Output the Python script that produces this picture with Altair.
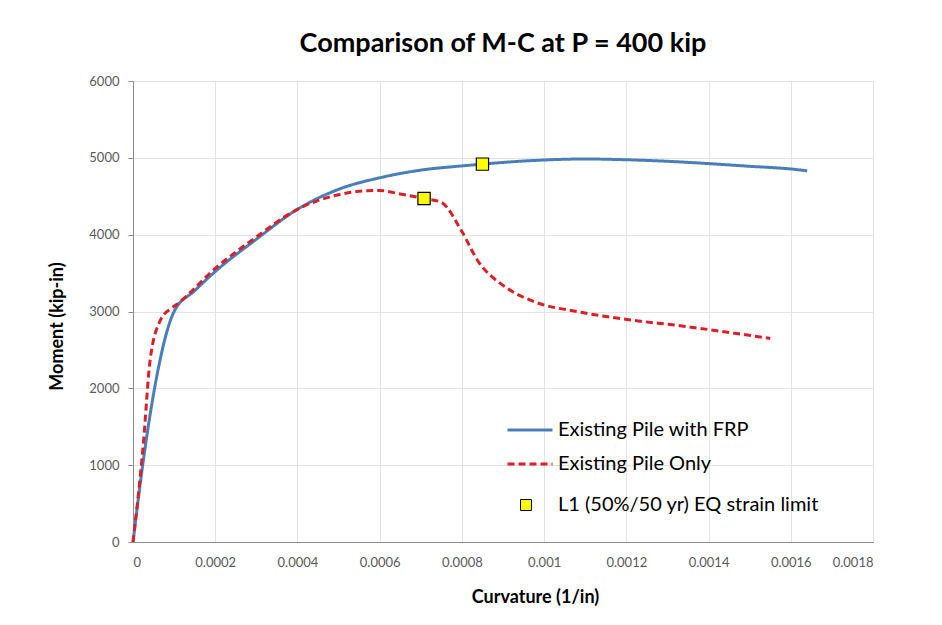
import altair as alt
import pandas as pd

frp_x = [0, 0.000025, 0.00005, 0.0001, 0.00015, 0.0002, 0.0003, 0.0004, 0.0005, 0.0006, 0.0007,
         0.0008, 0.00085, 0.0009, 0.001, 0.0011, 0.0012, 0.0013, 0.0014, 0.0015, 0.0016, 0.00164]
frp_y = [0, 1055, 1927, 3000, 3270, 3520, 3940, 4330, 4590, 4740, 4840,
         4895, 4918, 4940, 4972, 4985, 4975, 4955, 4925, 4890, 4855, 4831]

only_x = [0, 0.000025, 0.0000415, 0.000066, 0.00009, 0.000107, 0.0002, 0.0003, 0.0004, 0.0005,
          0.00055, 0.0006, 0.00065, 0.000708, 0.00075, 0.0008, 0.00084, 0.0009, 0.00097,
          0.00109, 0.00121, 0.00133, 0.00146, 0.00155]
only_y = [0, 1270, 2360, 2880, 3030, 3095, 3560, 3970, 4330, 4520,
          4565, 4575, 4530, 4471, 4420, 4040, 3650, 3340, 3140,
          2990, 2890, 2815, 2720, 2650]

limit_x = [0.000708, 0.00085]
limit_y = [4471, 4918]

x_ticks = [0, 0.0002, 0.0004, 0.0006, 0.0008, 0.001, 0.0012, 0.0014, 0.0016, 0.0018]
y_ticks = [0, 1000, 2000, 3000, 4000, 5000, 6000]

series_names = ["Existing Pile with FRP", "Existing Pile Only"]
limit_name = "L1 (50%/50 yr) EQ strain limit"

lines = pd.DataFrame(
    [{"c": x, "m": y, "series": series_names[0], "o": i} for i, (x, y) in enumerate(zip(frp_x, frp_y))]
    + [{"c": x, "m": y, "series": series_names[1], "o": i} for i, (x, y) in enumerate(zip(only_x, only_y))]
)
pts = pd.DataFrame({"c": limit_x, "m": limit_y, "kind": [limit_name] * len(limit_x)})

FONT = "Lato"

xscale = alt.Scale(domain=[0, 0.0018], nice=False, zero=True)
yscale = alt.Scale(domain=[0, 6000], nice=False)

xaxis = alt.Axis(title="Curvature (1/in)", values=x_ticks,
                 labelExpr="datum.value == 0 ? '0' : format(datum.value, '.4~f')",
                 titleFontSize=18, titleFont=FONT, titleFontWeight="bold", titleColor="#000",
                 titleX=402, titleAlign="center",
                 labelFont=FONT, labelFontSize=13, labelColor="#595959", labelPadding=14,
                 titlePadding=19, grid=True, gridColor="#e3e3e3", domainColor="#8c8c8c",
                 ticks=False)
yaxis = alt.Axis(title="Moment (kip-in)", values=y_ticks,
                 format="d", titleFontSize=18, titleFont=FONT, titleFontWeight="bold",
                 titleColor="#000", titleY=245, titleAlign="center",
                 labelFont=FONT, labelFontSize=13, labelColor="#595959",
                 labelPadding=9, titlePadding=22, grid=True, gridColor="#e3e3e3",
                 domainColor="#8c8c8c", tickColor="#8c8c8c", tickSize=5)

line_legend = alt.Legend(title=None, orient="none", legendX=373, legendY=325,
                         symbolType="stroke", symbolSize=2025, symbolStrokeWidth=3,
                         labelFont=FONT, labelFontSize=20, labelColor="#000",
                         rowPadding=-7, labelOffset=4, labelLimit=400)

line_chart = alt.Chart(lines).mark_line(strokeWidth=3, interpolate="monotone").encode(
    x=alt.X("c:Q", scale=xscale, axis=xaxis),
    y=alt.Y("m:Q", scale=yscale, axis=yaxis),
    order="o:Q",
    color=alt.Color("series:N", scale=alt.Scale(domain=series_names, range=["#4a7ebb", "#dc1f26"]),
                    legend=line_legend),
    strokeDash=alt.StrokeDash("series:N", scale=alt.Scale(domain=series_names, range=[[1, 0], [7, 4]]),
                              legend=line_legend),
)

point_chart = alt.Chart(pts).mark_point(shape="square", filled=True, size=150, stroke="#000",
                                        strokeWidth=1.2, opacity=1).encode(
    x=alt.X("c:Q", scale=xscale),
    y=alt.Y("m:Q", scale=yscale),
    fill=alt.Fill("kind:N", scale=alt.Scale(domain=[limit_name], range=["#ffff00"]),
                  legend=alt.Legend(title=None, orient="none", legendX=383, legendY=414,
                                    symbolType="square", symbolSize=120, symbolStrokeColor="#000",
                                    symbolStrokeWidth=1, labelFont=FONT, labelFontSize=20,
                                    labelColor="#000", labelOffset=22, labelLimit=400)),
)

chart = alt.layer(line_chart, point_chart).properties(
    width=740, height=461,
    title=alt.Title("Comparison of M-C at P = 400 kip", font=FONT, fontSize=27, fontWeight="bold",
                    color="#000", offset=17, anchor="middle"),
    padding={"left": 40, "top": 22, "right": 5, "bottom": 5},
).configure_view(stroke=None).configure(background="white")

chart.save("out.html", embed_options={"renderer": "svg", "actions": False})
